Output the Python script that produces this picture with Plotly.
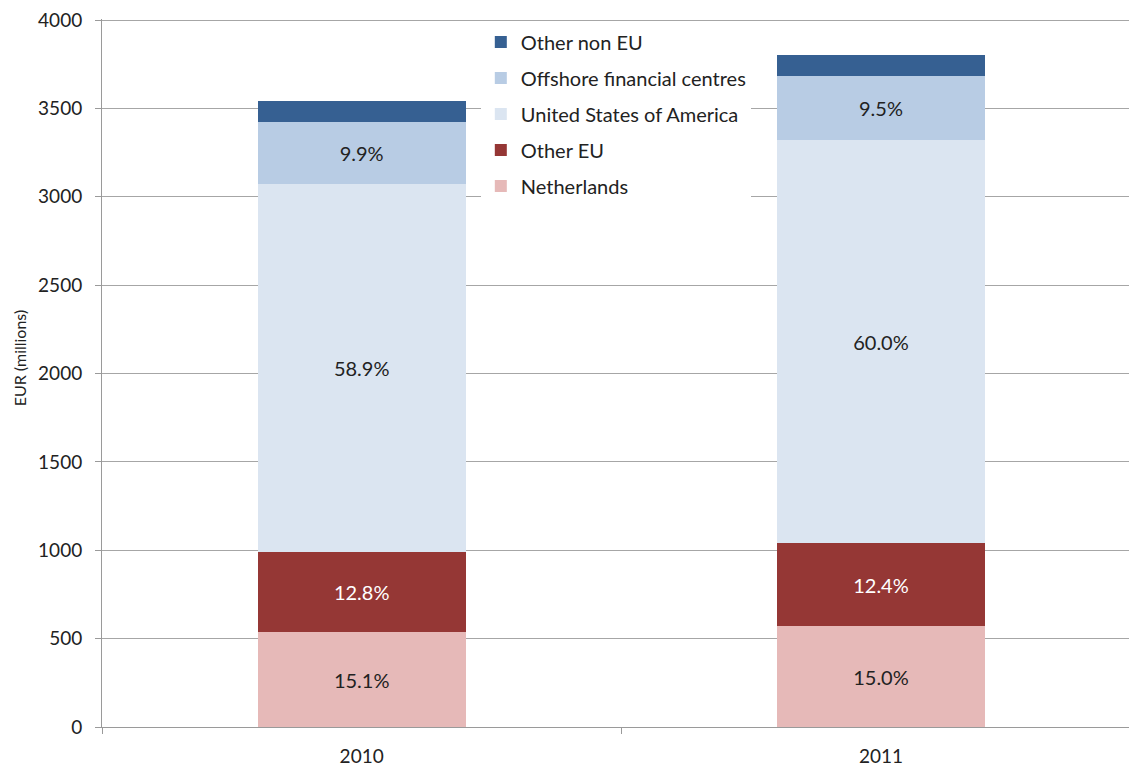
import plotly.graph_objects as go

years = ["2010", "2011"]
netherlands = [535, 570]
other_eu = [453, 471]
usa = [2085, 2280]
offshore = [350, 361]
other_non_eu = [117, 118]

netherlands_labels = ["15.1%", "15.0%"]
other_eu_labels = ["12.8%", "12.4%"]
usa_labels = ["58.9%", "60.0%"]
offshore_labels = ["9.9%", "9.5%"]
other_non_eu_labels = ["", ""]

y_ticks = [0, 500, 1000, 1500, 2000, 2500, 3000, 3500, 4000]

FONT = "Lato, 'Open Sans', sans-serif"
series = [
    ("Netherlands", netherlands, netherlands_labels, "#E6B9B8", "#222222"),
    ("Other EU", other_eu, other_eu_labels, "#953735", "#FFFFFF"),
    ("United States of America", usa, usa_labels, "#DBE5F1", "#222222"),
    ("Offshore financial centres", offshore, offshore_labels, "#B8CCE4", "#222222"),
    ("Other non EU", other_non_eu, other_non_eu_labels, "#366092", "#FFFFFF"),
]

fig = go.Figure()
for i, (name, vals, labels, color, tcolor) in enumerate(series):
    fig.add_trace(go.Bar(
        x=years, y=vals, name=name, text=labels,
        marker=dict(color=color, line=dict(width=0)),
        textposition="inside", insidetextanchor="middle", textangle=0,
        textfont=dict(family=FONT, size=20, color=tcolor),
        width=0.4, legendgroup=name, legendrank=1000 - i, hoverinfo="skip",
    ))

# page body has an 8px default margin, so the figure is drawn 8px in from the top-left
fig.update_layout(
    barmode="stack",
    width=1129, height=759,
    margin=dict(l=94, r=0, t=11, b=40),
    plot_bgcolor="white", paper_bgcolor="white",
    font=dict(family=FONT, size=19, color="#222222"),
    uniformtext=dict(minsize=20, mode="show"),
    showlegend=True,
    legend=dict(
        x=0.366, y=0.995, xanchor="left", yanchor="top",
        bgcolor="white", borderwidth=0,
        traceorder="grouped", tracegroupgap=7,
        font=dict(family=FONT, size=20, color="#222222"),
    ),
    xaxis=dict(
        type="category", range=[-0.5, 1.493], automargin=False,
        showline=True, linecolor="#9A9A9A", linewidth=1,
        ticks="outside", tickson="boundaries", ticklen=6, tickcolor="#9A9A9A",
        ticklabelstandoff=12,
        showgrid=False, tickfont=dict(family=FONT, size=19, color="#222222"),
    ),
    yaxis=dict(
        range=[0, 4006], tickvals=y_ticks, automargin=False,
        showline=True, linecolor="#9A9A9A", linewidth=1,
        ticks="outside", ticklen=6, tickcolor="#9A9A9A",
        ticklabelstandoff=9, ticklabeloverflow="allow",
        showgrid=True, gridcolor="#A6A6A6", gridwidth=1,
        zeroline=False,
        tickfont=dict(family=FONT, size=19, color="#222222"),
    ),
    annotations=[dict(
        text="EUR (millions)", textangle=-90,
        xref="paper", yref="paper", x=-0.0797, y=0.5215,
        xanchor="center", yanchor="middle", showarrow=False,
        font=dict(family=FONT, size=16, color="#222222"),
    )],
)

fig.write_html("out.html")
